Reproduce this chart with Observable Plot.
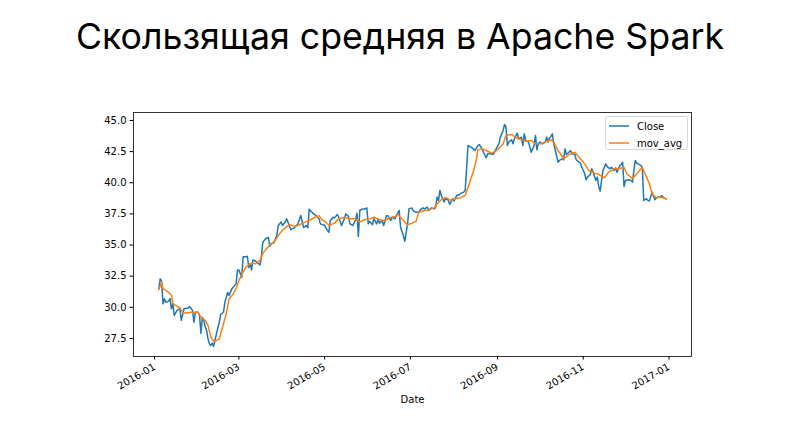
<!DOCTYPE html>
<html>
<head>
<meta charset="utf-8">
<script src="https://cdn.jsdelivr.net/npm/d3@7"></script>
<script src="https://cdn.jsdelivr.net/npm/@observablehq/plot@0.6"></script>
<style>
  html, body { margin: 0; padding: 0; background: #fff; }
  #page { position: relative; width: 800px; height: 430px; overflow: hidden; background: #fff; }
  #title { position: absolute; left: 0; top: 14px; width: 800px; text-align: center;
           font-family: Inter, "Noto Sans", sans-serif; font-size: 35.7px; font-weight: 400;
           line-height: normal; color: #000; white-space: nowrap; }
  #chart { position: absolute; left: 0; top: 80px; }
</style>
</head>
<body>
<div id="page">
  <div id="title">Скользящая средняя в Apache Spark</div>
  <div id="chart"></div>
</div>
<script>
// ---- Data ----
const closeDates = [
  "2016-01-04","2016-01-05","2016-01-06","2016-01-07","2016-01-08","2016-01-09","2016-01-11","2016-01-12","2016-01-13","2016-01-14",
  "2016-01-15","2016-01-17","2016-01-19","2016-01-20","2016-01-22","2016-01-23","2016-01-25","2016-01-26","2016-01-28","2016-01-29",
  "2016-01-30","2016-02-01","2016-02-02","2016-02-03","2016-02-04","2016-02-05","2016-02-06","2016-02-07","2016-02-08","2016-02-09",
  "2016-02-10","2016-02-11","2016-02-12","2016-02-14","2016-02-16","2016-02-17","2016-02-19","2016-02-20","2016-02-22","2016-02-23",
  "2016-02-25","2016-02-26","2016-02-28","2016-02-29","2016-03-01","2016-03-03","2016-03-04","2016-03-06","2016-03-07","2016-03-08",
  "2016-03-09","2016-03-10","2016-03-11","2016-03-13","2016-03-14","2016-03-16","2016-03-17","2016-03-18","2016-03-20","2016-03-22",
  "2016-03-23","2016-03-24","2016-03-26","2016-03-28","2016-03-29","2016-03-31","2016-04-01","2016-04-03","2016-04-04","2016-04-06",
  "2016-04-07","2016-04-09","2016-04-11","2016-04-12","2016-04-14","2016-04-16","2016-04-18","2016-04-19","2016-04-20","2016-04-22",
  "2016-04-23","2016-04-25","2016-04-27","2016-04-28","2016-04-30","2016-05-01","2016-05-03","2016-05-04","2016-05-05","2016-05-07",
  "2016-05-08","2016-05-10","2016-05-11","2016-05-13","2016-05-15","2016-05-16","2016-05-18","2016-05-19","2016-05-21","2016-05-23",
  "2016-05-24","2016-05-25","2016-05-26","2016-05-28","2016-05-30","2016-05-31","2016-06-01","2016-06-02","2016-06-04","2016-06-05",
  "2016-06-07","2016-06-08","2016-06-09","2016-06-11","2016-06-12","2016-06-14","2016-06-15","2016-06-17","2016-06-18","2016-06-20",
  "2016-06-21","2016-06-23","2016-06-24","2016-06-26","2016-06-27","2016-06-29","2016-06-30","2016-07-02","2016-07-03","2016-07-05",
  "2016-07-07","2016-07-08","2016-07-10","2016-07-11","2016-07-13","2016-07-14","2016-07-16","2016-07-18","2016-07-19","2016-07-20",
  "2016-07-21","2016-07-22","2016-07-23","2016-07-25","2016-07-26","2016-07-28","2016-07-29","2016-07-31","2016-08-01","2016-08-03",
  "2016-08-05","2016-08-06","2016-08-08","2016-08-09","2016-08-11","2016-08-14","2016-08-16","2016-08-18","2016-08-19","2016-08-21",
  "2016-08-22","2016-08-24","2016-08-25","2016-08-27","2016-08-29","2016-08-31","2016-09-02","2016-09-03","2016-09-05","2016-09-06",
  "2016-09-07","2016-09-08","2016-09-09","2016-09-11","2016-09-12","2016-09-13","2016-09-15","2016-09-16","2016-09-18","2016-09-19",
  "2016-09-20","2016-09-21","2016-09-23","2016-09-24","2016-09-25","2016-09-27","2016-09-28","2016-09-29","2016-09-30","2016-10-01",
  "2016-10-03","2016-10-05","2016-10-06","2016-10-07","2016-10-08","2016-10-09","2016-10-10","2016-10-11","2016-10-13","2016-10-14",
  "2016-10-15","2016-10-17","2016-10-18","2016-10-19","2016-10-20","2016-10-21","2016-10-23","2016-10-24","2016-10-26","2016-10-27",
  "2016-10-28","2016-10-30","2016-10-31","2016-11-02","2016-11-03","2016-11-04","2016-11-06","2016-11-07","2016-11-08","2016-11-10",
  "2016-11-11","2016-11-12","2016-11-13","2016-11-14","2016-11-15","2016-11-17","2016-11-18","2016-11-20","2016-11-21","2016-11-23",
  "2016-11-24","2016-11-25","2016-11-27","2016-11-28","2016-11-29","2016-11-30","2016-12-01","2016-12-03","2016-12-05","2016-12-06",
  "2016-12-07","2016-12-08","2016-12-09","2016-12-11","2016-12-12","2016-12-13","2016-12-14","2016-12-16","2016-12-17","2016-12-18",
  "2016-12-20","2016-12-21","2016-12-22","2016-12-23","2016-12-25","2016-12-27","2016-12-28","2016-12-30"
];
const closeValues = [
  31.49,32.29,32.10,30.29,30.69,30.40,30.50,30.70,29.88,30.30,
  29.35,29.75,29.90,28.95,29.90,29.90,29.95,30.05,29.75,28.80,
  29.60,29.60,29.30,27.90,29.20,28.95,28.42,28.15,27.47,27.07,
  26.94,27.12,26.86,27.87,28.80,29.42,29.60,30.40,31.20,30.95,
  31.50,31.60,31.90,33.00,33.00,32.40,34.05,34.05,34.10,33.20,
  33.50,33.00,33.80,33.70,33.60,33.40,34.05,35.23,35.50,35.60,
  34.90,35.10,35.20,35.80,36.57,36.85,36.57,36.85,37.10,36.50,
  36.23,36.35,36.57,36.70,37.37,36.40,36.57,36.38,37.88,37.63,
  37.50,37.36,37.10,36.70,36.63,36.57,36.16,36.02,36.97,37.23,
  37.18,37.45,37.23,36.57,37.10,37.50,37.29,36.70,36.57,37.03,
  37.56,35.69,37.77,37.90,37.90,37.98,36.70,36.90,36.63,37.10,
  36.70,37.03,36.76,36.97,36.57,37.36,37.36,36.97,37.23,37.10,
  37.36,37.77,36.43,35.76,35.30,36.70,37.90,37.98,37.77,37.63,
  37.63,37.82,37.98,37.90,38.04,37.77,37.98,37.90,38.04,38.85,
  38.58,39.38,38.98,38.45,38.80,38.58,38.26,38.72,38.53,38.98,
  39.06,39.17,39.25,39.38,42.99,42.80,42.59,42.99,43.07,42.72,
  42.45,42.00,42.32,42.32,42.27,42.72,43.13,43.66,44.20,44.68,
  44.47,42.99,43.26,43.45,43.13,43.53,43.98,43.53,43.66,42.99,
  43.93,43.39,43.26,42.86,42.45,42.99,43.80,42.64,43.13,43.26,
  43.13,43.26,43.66,43.26,43.61,43.72,43.93,43.13,42.19,41.65,
  41.79,41.92,41.84,42.72,42.27,42.37,42.59,42.32,42.27,41.84,
  41.73,41.57,41.25,40.72,40.24,40.45,40.66,41.12,40.85,40.18,
  40.45,39.70,39.33,40.18,40.98,41.52,41.30,41.12,41.25,40.98,
  41.20,40.85,41.38,41.46,41.65,39.70,40.18,40.24,40.18,40.05,
  40.98,41.79,41.57,41.46,41.38,41.25,38.58,38.72,38.58,38.53,
  39.25,38.90,38.64,38.80,38.85,38.96,38.80,38.69
];
const movDates = [
  "2016-01-04","2016-01-06","2016-01-07","2016-01-11","2016-01-13","2016-01-14","2016-01-16","2016-01-19","2016-01-21","2016-01-23",
  "2016-01-27","2016-02-01","2016-02-03","2016-02-06","2016-02-08","2016-02-10","2016-02-12","2016-02-14","2016-02-16","2016-02-19",
  "2016-02-21","2016-02-23","2016-02-26","2016-02-28","2016-03-01","2016-03-04","2016-03-06","2016-03-10","2016-03-13","2016-03-16",
  "2016-03-18","2016-03-20","2016-03-23","2016-03-26","2016-03-30","2016-04-02","2016-04-06","2016-04-10","2016-04-13","2016-04-17",
  "2016-04-20","2016-04-24","2016-04-27","2016-04-29","2016-05-02","2016-05-04","2016-05-08","2016-05-11","2016-05-15","2016-05-19",
  "2016-05-23","2016-05-26","2016-05-29","2016-06-02","2016-06-05","2016-06-09","2016-06-13","2016-06-16","2016-06-20","2016-06-22",
  "2016-06-26","2016-06-29","2016-07-02","2016-07-05","2016-07-07","2016-07-11","2016-07-14","2016-07-18","2016-07-20","2016-07-23",
  "2016-07-26","2016-07-30","2016-08-02","2016-08-06","2016-08-09","2016-08-11","2016-08-13","2016-08-15","2016-08-17","2016-08-18",
  "2016-08-21","2016-08-25","2016-08-28","2016-09-01","2016-09-05","2016-09-07","2016-09-11","2016-09-14","2016-09-18","2016-09-21",
  "2016-09-25","2016-09-28","2016-10-02","2016-10-05","2016-10-09","2016-10-11","2016-10-14","2016-10-16","2016-10-18","2016-10-22",
  "2016-10-26","2016-10-29","2016-11-02","2016-11-05","2016-11-09","2016-11-12","2016-11-16","2016-11-19","2016-11-23","2016-11-26",
  "2016-11-30","2016-12-02","2016-12-06","2016-12-10","2016-12-13","2016-12-16","2016-12-18","2016-12-20","2016-12-23","2016-12-26",
  "2016-12-30"
];
const movValues = [
  31.41,32.02,31.49,31.20,30.96,30.29,30.15,29.96,29.60,29.53,
  29.60,29.60,29.20,28.95,28.55,27.60,27.28,27.33,27.47,28.68,
  29.50,30.69,31.09,31.50,32.16,32.83,33.23,33.56,33.50,33.77,
  34.31,34.63,34.98,35.25,35.92,36.30,36.63,36.50,36.63,36.84,
  36.97,37.23,37.36,37.03,36.84,36.57,36.76,37.10,37.23,37.10,
  37.10,36.84,37.03,37.10,37.23,37.03,36.97,37.18,37.29,37.45,
  36.97,36.63,36.76,36.90,37.63,37.77,37.82,37.98,38.31,38.64,
  38.80,38.58,38.72,38.80,38.98,39.60,40.32,40.98,41.92,42.64,
  42.72,42.53,42.37,42.64,43.13,43.80,43.88,43.61,43.45,43.34,
  43.39,43.13,43.13,43.26,43.45,43.26,42.59,42.27,41.92,42.27,
  42.45,42.05,41.52,40.98,40.77,40.66,40.40,40.85,41.12,41.12,
  41.25,40.72,40.32,40.85,41.25,40.45,39.92,39.12,38.80,38.85,
  38.72
];
const seriesNames = ["Close", "mov_avg"];
const seriesColors = ["#1f77b4", "#ff7f0e"];
const xTickLabels = ["2016-01","2016-03","2016-05","2016-07","2016-09","2016-11","2017-01"];
const yTicks = [27.5, 30.0, 32.5, 35.0, 37.5, 40.0, 42.5, 45.0];
const xLabel = "Date";

// ---- Build tables ----
const parse = d3.utcParse("%Y-%m-%d");
const closeData = closeDates.map((d, i) => ({date: parse(d), value: closeValues[i]}));
const movData = movDates.map((d, i) => ({date: parse(d), value: movValues[i]}));
const xTicks = xTickLabels.map(s => d3.utcParse("%Y-%m")(s));

const chart = Plot.plot({
  width: 800,
  height: 350,
  marginTop: 32,
  marginLeft: 133,
  marginRight: 109,
  marginBottom: 74,
  style: {fontFamily: "'DejaVu Sans', sans-serif", fontSize: "10px", color: "#000", background: "#fff"},
  x: {type: "utc", domain: [parse("2015-12-17"), parse("2017-01-17")], ticks: xTicks, tickFormat: d3.utcFormat("%Y-%m"), tickRotate: -30, tickSize: 3.5, tickPadding: 6, label: null},
  y: {domain: [26.05, 45.64], ticks: yTicks, tickFormat: d3.format(".1f"), tickSize: 3.5, tickPadding: 3.5, label: null},
  marks: [
    Plot.line(closeData, {x: "date", y: "value", stroke: seriesColors[0], strokeWidth: 1.5, curve: "linear"}),
    Plot.line(movData, {x: "date", y: "value", stroke: seriesColors[1], strokeWidth: 1.5, curve: "linear"}),
    Plot.frame({stroke: "#000", strokeWidth: 0.8}),
    Plot.text([xLabel], {frameAnchor: "bottom", lineAnchor: "top", dy: 39, fill: "#000", fontSize: 10})
  ]
});

// Legend (matplotlib-style box, upper right)
const svg = d3.select(chart);
const lg = svg.append("g").attr("font-family", "'DejaVu Sans', sans-serif").attr("font-size", 10).attr("text-anchor", "start");
lg.append("rect").attr("x", 605.5).attr("y", 36.5).attr("width", 82).attr("height", 33)
  .attr("rx", 2).attr("fill", "#fff").attr("fill-opacity", 0.8).attr("stroke", "#ccc").attr("stroke-width", 0.8);
seriesNames.forEach((name, i) => {
  const cy = 46 + i * 17;
  lg.append("line").attr("x1", 609).attr("x2", 629).attr("y1", cy).attr("y2", cy)
    .attr("stroke", seriesColors[i]).attr("stroke-width", 1.5);
  lg.append("text").attr("x", 637).attr("y", cy).attr("dy", "0.35em").attr("fill", "#000").attr("text-anchor", "start").text(name);
});

document.getElementById("chart").appendChild(chart);
</script>
</body>
</html>
